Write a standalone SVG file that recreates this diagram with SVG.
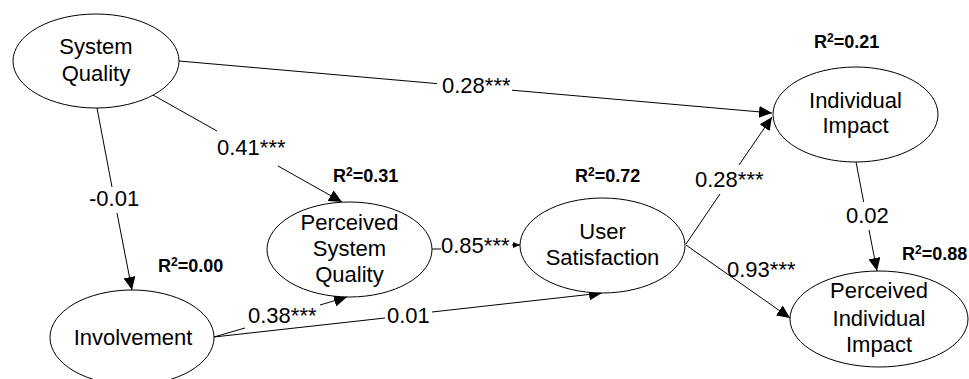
<svg xmlns="http://www.w3.org/2000/svg" width="969" height="379" viewBox="0 0 969 379">
<defs>
<style>
.n ellipse{fill:#fff;stroke:#000;stroke-width:1}
.t{font-family:"Liberation Sans",Arial,sans-serif;font-size:22px;fill:#000}
.c{text-anchor:middle}
.r{font-family:"Liberation Sans",Arial,sans-serif;font-size:18px;font-weight:bold;fill:#000}
.sup{font-size:12px}
.e path{fill:none;stroke:#000;stroke-width:1}
</style>
<marker id="a" viewBox="0 0 13 12" refX="13" refY="6" markerWidth="13" markerHeight="12" markerUnits="userSpaceOnUse" orient="auto"><path d="M0,0 L13,6 L0,12 z" fill="#000"/></marker>
<marker id="s" viewBox="0 0 7 6" refX="7" refY="3" markerWidth="7" markerHeight="6" markerUnits="userSpaceOnUse" orient="auto"><path d="M0,0 L7,3 L0,6 z" fill="#000"/></marker>
</defs>
<rect width="969" height="379" fill="#fff"/>
<g id="connectors" class="e">
<path d="M179,61 L437,83.6 M512,90.2 L772,113" marker-end="url(#a)"/>
<path d="M153,95 L217,131 M278,166 L342,202" marker-end="url(#a)"/>
<path d="M97,108 L112,187 M117,213 L132,290" marker-end="url(#a)"/>
<path d="M214,337 L245,328 M320,305 L347,297" marker-end="url(#a)"/>
<path d="M214,337 L385,318 M432,312 L602,293" marker-end="url(#a)"/>
<path d="M432,249 L441,249 M512,245 L520,245" marker-end="url(#s)"/>
<path d="M686,244 L720,194 M739,165 L772,117" marker-end="url(#a)"/>
<path d="M686,245 L790,318" marker-end="url(#a)"/>
<path d="M856,162 L863.7,202 M869,230 L877,271" marker-end="url(#a)"/>
</g>
<g id="edge-labels" class="t">
<text x="442" y="93">0.28***</text>
<text x="217" y="155">0.41***</text>
<text x="89" y="206">-0.01</text>
<text x="248" y="323">0.38***</text>
<text x="387" y="323">0.01</text>
<text x="441" y="253">0.85***</text>
<text x="695" y="187">0.28***</text>
<text x="727" y="277">0.93***</text>
<text x="846" y="223">0.02</text>
</g>
<g id="r2-labels" class="r">
<text x="158" y="272">R<tspan class="sup" dy="-6">2</tspan><tspan dy="6">=0.00</tspan></text>
<text x="333" y="182">R<tspan class="sup" dy="-6">2</tspan><tspan dy="6">=0.31</tspan></text>
<text x="575" y="182">R<tspan class="sup" dy="-6">2</tspan><tspan dy="6">=0.72</tspan></text>
<text x="814" y="48">R<tspan class="sup" dy="-6">2</tspan><tspan dy="6">=0.21</tspan></text>
<text x="902" y="260">R<tspan class="sup" dy="-6">2</tspan><tspan dy="6">=0.88</tspan></text>
</g>
<g id="system-quality" class="n">
<ellipse cx="96" cy="61" rx="83" ry="47"/>
<text class="t c" x="96" y="54">System</text>
<text class="t c" x="96" y="81">Quality</text>
</g>
<g id="involvement" class="n">
<ellipse cx="132" cy="337.5" rx="82" ry="47.5"/>
<text class="t c" x="133" y="345">Involvement</text>
</g>
<g id="perceived-system-quality" class="n">
<ellipse cx="349.5" cy="249.5" rx="82.5" ry="47.5"/>
<text class="t c" x="349.5" y="229.5">Perceived</text>
<text class="t c" x="349.5" y="256">System</text>
<text class="t c" x="349.5" y="282">Quality</text>
</g>
<g id="user-satisfaction" class="n">
<ellipse cx="602.5" cy="245.5" rx="82.5" ry="47.5"/>
<text class="t c" x="602.5" y="239">User</text>
<text class="t c" x="602.5" y="265">Satisfaction</text>
</g>
<g id="individual-impact" class="n">
<ellipse cx="855.5" cy="114.5" rx="82.5" ry="47.5"/>
<text class="t c" x="855.5" y="108">Individual</text>
<text class="t c" x="855.5" y="133">Impact</text>
</g>
<g id="perceived-individual-impact" class="n">
<ellipse cx="879" cy="319" rx="89" ry="48"/>
<text class="t c" x="879" y="298">Perceived</text>
<text class="t c" x="879" y="326">Individual</text>
<text class="t c" x="879" y="352">Impact</text>
</g>
</svg>
